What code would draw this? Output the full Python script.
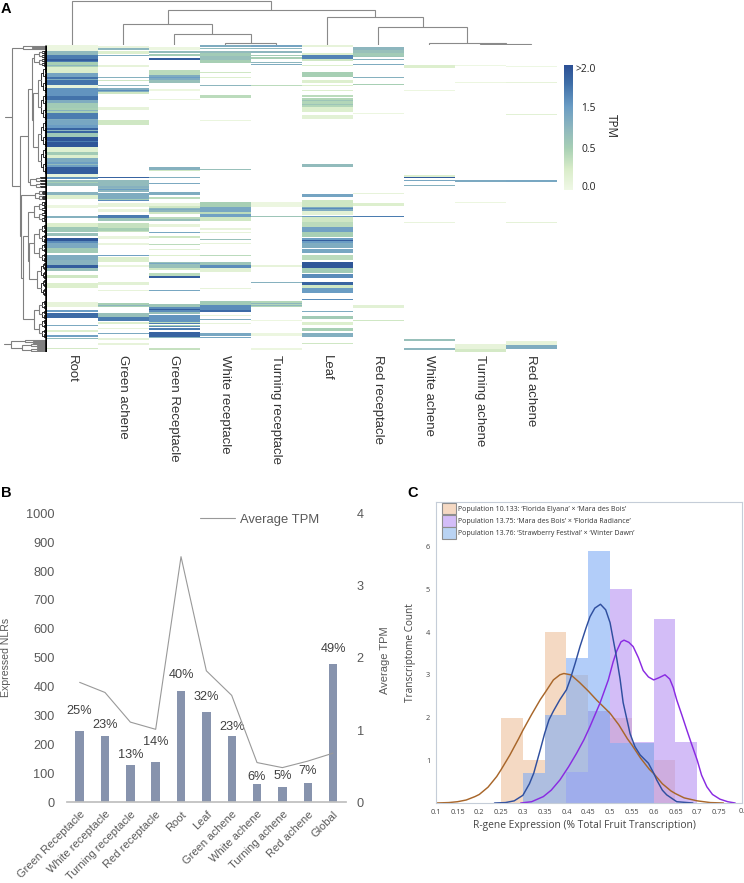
import numpy as np, pandas as pd, seaborn as sns
import matplotlib
matplotlib.use("Agg")
import matplotlib.pyplot as plt
from matplotlib.colors import LinearSegmentedColormap, FuncNorm
from matplotlib.lines import Line2D
from matplotlib.patches import Patch

sns.set_theme(style="white")
plt.rcParams['font.family'] = ['Liberation Sans', 'DejaVu Sans']
W, H = 744, 883
fig = plt.figure(figsize=(W/100, H/100), dpi=100, facecolor='white')
def axpx(l, t, r, b, **k):
    return fig.add_axes([l/W, 1-b/H, (r-l)/W, (b-t)/H], **k)

# ---------- Panel A data: (first row, last row, TPM); rows numbered 45..351 ----------
heat_cols = ["Root","Green achene","Green Receptacle","White receptacle","Turning receptacle",
             "Leaf","Red receptacle","White achene","Turning achene","Red achene"]
root = [(45,50,.05),(51,54,.95),(55,61,1.7),(59,60,1.9),(62,64,.5),(65,65,1.0),(66,66,.5),(67,72,.22),(73,76,1.35),(77,84,1.75),(79,79,1.2),(85,87,.1),
        (88,95,1.55),(96,99,1.75),(100,102,1.2),(103,107,.6),(108,112,.5),(110,110,1.1),(113,118,1.7),(119,119,1.2),(120,124,1.3),(125,127,1.5),
        (128,132,1.85),(130,130,1.0),(133,136,.65),(137,146,1.95),(141,141,1.7),(147,151,.18),(152,154,.6),(155,157,.2),(158,161,1.2),(162,166,1.45),(164,164,.9),
        (167,173,1.9),(174,176,.1),(177,178,1.55),(180,185,.9),(182,182,.5),(192,194,1.05),(195,198,.2),(216,217,1.1),(205,207,.05),(223,226,.22),
        (227,231,.65),(233,235,.8),(238,240,1.95),(241,242,1.6),(243,247,1.25),(248,252,.6),(255,259,1.2),(260,264,1.05),(265,267,1.9),(268,270,.8),(275,277,.3),
        (283,287,.2),(302,306,.1),(310,311,1.5),(313,317,1.8),(325,325,1.25),(330,331,.2),(335,336,1.4),(338,338,.9),(348,348,.28)]
green_achene = [(46,47,.08),(48,49,1.0),(51,53,.2),(55,55,1.2),(65,66,.1),(77,77,1.1),(80,80,.3),(85,85,1.0),(88,91,1.15),(90,90,1.6),(92,93,.3),(107,109,.1),
        (120,124,.3),(177,177,1.85),(180,185,.9),(186,187,1.1),(188,191,1.0),(189,189,1.5),(193,198,1.2),(199,199,.6),(200,200,1.6),(203,206,.1),(209,211,.08),
        (215,217,1.7),(218,220,.7),(223,231,.35),(228,230,.5),(236,238,.08),(243,244,.08),(255,255,1.4),(257,261,.2),(265,266,.08),(282,284,.15),(290,290,.1),
        (303,306,.5),(305,305,1.0),(313,316,.8),(317,320,1.7),(322,323,.2),(328,328,.1),(333,333,1.25),(338,339,.12),(343,344,.1)]
green_recept = [(47,49,.05),(51,52,.9),(54,55,.6),(58,59,1.9),(70,74,.4),(75,79,1.2),(77,77,1.5),(80,82,.8),(89,90,.05),(99,99,.07),(167,169,1.1),(170,170,.3),
        (177,177,1.15),(183,183,1.25),(192,194,1.2),(197,198,.4),(203,205,.1),(206,207,.3),(208,211,1.0),(209,209,1.2),(212,213,.3),(217,218,.4),(219,220,.8),
        (224,226,.1),(232,232,1.3),(236,237,.3),(244,244,.4),(249,249,.15),(255,255,.2),(262,267,.8),(263,263,1.3),(268,269,.3),(273,275,.4),(276,277,1.9),
        (290,290,1.3),(304,306,.7),(307,311,1.6),(309,309,1.9),(312,313,.8),(315,321,1.55),(322,322,.4),(323,323,1.7),(325,325,.5),(326,326,1.6),(328,329,1.7),
        (332,336,1.85),(337,337,1.0),(348,349,.35)]
white_recept = [(45,46,1.2),(48,48,.9),(51,52,.9),(53,55,.6),(56,59,.8),(60,62,.5),(72,72,.3),(77,77,.2),(85,85,1.0),(95,97,.4),(120,120,.07),(169,169,.8),(202,206,.5),
        (207,211,1.3),(212,213,.4),(214,216,1.4),(217,220,.3),(228,229,.1),(232,232,.1),(239,239,.8),(243,243,.1),(255,255,.4),(262,264,.7),(265,267,1.6),(268,271,.15),
        (288,288,.1),(301,304,.6),(305,309,1.6),(310,311,1.8),(315,315,.1),(319,319,1.2),(323,323,.1),(333,335,1.3),(337,337,1.3)]
turning_recept = [(45,46,1.35),(48,48,1.0),(51,52,1.0),(55,55,.6),(57,58,.5),(62,62,1.0),(64,64,1.2),(85,85,.4),(202,206,.05),(216,216,.7),(265,266,.1),(282,282,1.1),
        (301,306,.45),(303,303,1.0),(305,305,1.0),(320,320,.05),(333,335,.05),(348,349,.05)]
leaf = [(45,46,.1),(53,54,.2),(55,58,1.65),(59,60,.3),(65,65,.2),(72,76,.5),(80,82,.2),(85,85,.2),(90,90,.2),(95,96,.4),(98,106,.45),(100,100,.7),(104,104,.7),(107,111,.2),(115,118,.15),
        (164,166,.9),(194,196,1.35),(200,206,.3),(207,210,1.2),(208,208,1.6),(211,214,.15),(216,216,1.5),(217,221,.3),(222,226,.4),(227,231,1.4),(232,236,.5),(238,242,1.5),(240,240,1.9),(243,247,1.2),(249,252,1.3),
        (255,259,.4),(262,267,1.95),(268,272,.6),(274,277,1.6),(282,284,1.85),(285,287,.3),(288,292,1.5),(299,299,1.6),(311,311,1.2),(316,318,.6),(322,324,.2),(328,330,.5),(333,336,1.15),(343,343,.3)]
red_recept = [(47,49,1.0),(50,52,.8),(53,55,.6),(56,56,.7),(59,59,1.1),(64,64,1.2),(77,77,1.1),(84,84,.5),(113,113,.05),(193,193,.1),(203,205,.2),(216,216,1.7),(305,307,.15),(320,320,.3)]
white_achene = [(65,67,.2),(90,90,.05),(175,176,.2),(177,177,1.9),(180,180,1.3),(185,185,1.1),(222,222,.08),(339,340,.8),(348,349,1.0)]
turning_achene = [(65,65,.03),(82,82,.05),(180,181,1.25),(202,202,.05),(344,348,.1),(349,351,.28)]
red_achene = [(66,66,.03),(82,82,.1),(114,114,.15),(180,181,1.3),(222,222,.12),(341,344,.1),(345,348,1.2)]
heat_bands = [root, green_achene, green_recept, white_recept, turning_recept, leaf, red_recept, white_achene, turning_achene, red_achene]

cbar_stops = [0, .5, 1.5, 2]
cbar_ticks = [.05, .5, 1.5, 1.96]
cbar_labels = ["0.0", "0.5", "1.5", ">2.0"]

# column dendrogram: (merge height, left, right); leaves index columns
col_tree = (43.7, 0,
            (34.5, (20.5, 1, (11, 2, (2.2, 3, 4))),
                   (27.5, 5, (17.5, 6, (1.6, 7, (0.9, 8, 9))))))
# row dendrograms: nodes and ranges of leaf rows
def N(h, a, b): return ("node", h, a, b)
def R(r0, r1, h): return ("rows", r0, r1, h)
row_trees = [
    N(35, R(45, 50, 24),
       N(27, N(19, N(15, R(50, 66, 13), R(66, 174, 14)), R(176, 188, 17)),
             N(26, R(190, 200, 12),
                   N(24, N(19, R(201, 222, 13), N(18, R(224, 262, 13), R(262, 296, 10))), R(300, 338, 13))))),
    N(36, R(339, 343, 22), R(343, 352, 25)),
]

# ---------- Panel B data ----------
b_cats = ["Green Receptacle","White receptacle","Turning receptacle","Red receptacle","Root","Leaf",
          "Green achene","White achene","Turning achene","Red achene","Global"]
b_nlrs = [245,230,128,138,385,313,230,63,52,68,478]
b_tpm = [1.66,1.52,1.11,1.01,3.4,1.82,1.48,.55,.48,.57,.68]
b_pct = ["25%","23%","13%","14%","40%","32%","23%","6%","5%","7%","49%"]
b_pct_at = [317,267,163,210,440,365,262,89,91,108,531]

# ---------- Panel C data ----------
c_edges = [.25,.3,.35,.4,.45,.5,.55,.6,.65,.7]
c_orange = [2,1,4,3,2.15,2,1.4,1,0]
c_purple = [0,0,0,.72,2.15,5,1.43,4.3,1.43]
c_blue = [0,.7,2.05,3.4,5.9,1.4,1.4,0,0]
kde_orange_x = [.1,.13,.15,.17,.19,.2,.22,.24,.25,.27,.29,.3,.32,.34,.35,.37,.385,.394,.41,.43,.45,.47,.49,.5,.52,.54,.55,.57,.59,.6,.62,.64,.65,.67,.7,.73,.76]
kde_orange_y = [0,.01,.03,.07,.15,.2,.37,.62,.78,1.12,1.5,1.7,2.07,2.42,2.57,2.88,3.0,3.03,3.0,2.82,2.62,2.4,2.2,2.1,1.83,1.5,1.36,1.05,.79,.69,.45,.28,.22,.12,.05,.01,0]
kde_blue_x = [.235,.26,.28,.3,.315,.325,.34,.35,.36,.37,.385,.4,.408,.42,.431,.445,.454,.465,.478,.49,.5,.515,.523,.53,.546,.557,.569,.588,.6,.607,.62,.63,.653,.69]
kde_blue_y = [0,.01,.05,.18,.45,.7,1.25,1.63,1.95,2.15,2.42,2.65,2.875,3.27,3.66,4.1,4.36,4.56,4.65,4.52,4.22,3.4,2.9,2.35,1.62,1.32,1.125,.93,.7,.54,.3,.19,.03,0]
kde_purple_x = [.295,.32,.347,.365,.385,.405,.423,.44,.454,.477,.496,.507,.515,.525,.532,.543,.553,.565,.576,.588,.6,.612,.626,.637,.645,.653,.665,.676,.688,.7,.71,.722,.735,.752,.77,.787]
kde_purple_y = [0,.03,.15,.3,.54,.85,1.16,1.48,1.79,2.34,2.88,3.3,3.55,3.77,3.81,3.76,3.66,3.4,3.1,2.95,2.88,2.93,3.0,2.9,2.7,2.41,2.05,1.71,1.35,1.0,.65,.38,.2,.09,.03,0]
c_legend = ["Population 10.133: ‘Florida Elyana’ × ‘Mara des Bois’",
            "Population 13.75: ‘Mara des Bois’ × ‘Florida Radiance’",
            "Population 13.76: ‘Strawberry Festival’ × ‘Winter Dawn’"]

# ---------- Panel A ----------
RFIRST, RLAST = 45, 351
mat = np.zeros((RLAST-RFIRST+1, len(heat_cols)))
for j, bands in enumerate(heat_bands):
    for a, b, v in bands:
        mat[a-RFIRST:b-RFIRST+1, j] = v
df = pd.DataFrame(mat, columns=heat_cols)
cmap = LinearSegmentedColormap.from_list("tpm", [(0,'#F0F8E6'),(.17,'#D8ECC8'),(.33,'#A8D0B4'),(.5,'#8DB6BE'),
                                                 (.67,'#6A9CC4'),(.85,'#3F6FA8'),(1,'#2B4F94')])
cmap.set_bad('white')
pos = [0, 1/3, 2/3, 1]
def fwd(v):
    return np.ma.array(np.interp(np.ma.getdata(v), cbar_stops, pos), mask=np.ma.getmask(v))
def inv(p):
    return np.ma.array(np.interp(np.ma.getdata(p), pos, cbar_stops), mask=np.ma.getmask(p))
norm = FuncNorm((fwd, inv), vmin=0, vmax=2)
axh = axpx(46.7, 45, 556.5, 352)
axc = axpx(563.7, 65, 572.7, 190)
sns.heatmap(df, ax=axh, cmap=cmap, norm=norm, mask=mat == 0, cbar_ax=axc, yticklabels=False, xticklabels=True,
            cbar_kws=dict(ticks=cbar_ticks))
axh.tick_params(axis='x', length=0, pad=2, labelsize=9.5, labelcolor='#333333')
plt.setp(axh.get_xticklabels(), rotation=-90, ha='center', va='top')
axh.set_ylabel(''); axh.set_xlabel('')
axc.set_yticks(cbar_ticks); axc.set_yticklabels(cbar_labels, ha='right', fontfamily='Open Sans', fontsize=7.4, color='#222222')
axc.tick_params(axis='y', length=0, pad=16.5)
axc.minorticks_off()
for s in axc.spines.values(): s.set_visible(False)
fig.text(611/W, 1-126/H, "TPM", rotation=-90, ha='center', va='center', fontfamily='Open Sans', fontsize=8.4, color='#222222')

axd = axpx(46.7, 0, 556.5, 45)
axd.set_xlim(0, 10); axd.set_ylim(0, 44.5); axd.axis('off')
def draw_col(node):
    if not isinstance(node, tuple):
        return node+.5, 0
    h, a, b = node
    xa, ha = draw_col(a); xb, hb = draw_col(b)
    axd.plot([xa, xa, xb, xb], [ha, h, h, hb], color='#8a8a8a', lw=.8, solid_joinstyle='miter')
    return (xa+xb)/2, h
draw_col(col_tree)

axr = axpx(0, 45, 46.7, 352)
axr.set_xlim(46.7, 0); axr.set_ylim(352, 45); axr.axis('off')
def bracket(ya, ha, yb, hb, h, dark):
    col = '#111111' if dark else '#808080'
    axr.plot([ha, h, h, hb], [ya, ya, yb, yb], color=col, lw=.6 if dark else .8, solid_joinstyle='miter')
def draw_row(n):
    if n[0] == "node":
        ya, ha = draw_row(n[2]); yb, hb = draw_row(n[3])
        bracket(ya, ha, yb, hb, n[1], False)
        return (ya+yb)/2, n[1]
    _, r0, r1, h = n
    if r1-r0 <= 1.5:
        return (r0+r1)/2, 0
    mid = (r0+r1)/2
    ya, ha = draw_row(("rows", r0, mid, h*.62))
    yb, hb = draw_row(("rows", mid, r1, h*.62))
    bracket(ya, ha, yb, hb, h, h < 7)
    return (ya+yb)/2, h
for t in row_trees:
    y, h = draw_row(t)
    axr.plot([h, h+7], [y, y], color='#808080', lw=.8)
axr.plot([1.1, 1.1], [45, 352], color='black', lw=1.8, solid_capstyle='butt')

# ---------- Panel B ----------
axb = axpx(67, 513.3, 345.7, 802.3)
sns.barplot(x=b_cats, y=b_nlrs, ax=axb, color='#8793AD', saturation=1, width=.33, edgecolor='none', linewidth=0)
axb.set_xlim(-.5, 10.5); axb.set_ylim(0, 1000)
axb.set_yticks(range(0, 1001, 100))
gc = '#595959'
axb.tick_params(axis='y', length=0, pad=9, labelsize=9.2, labelcolor=gc)
axb.tick_params(axis='x', length=0, pad=5, labelsize=8.0, labelcolor=gc)
plt.setp(axb.get_xticklabels(), rotation=45, ha='right', va='top', rotation_mode='anchor')
for s in ['top', 'left', 'right']: axb.spines[s].set_visible(False)
axb.spines['bottom'].set_color('#BFBFBF')
axb.set_ylabel("Expressed NLRs", fontsize=7.6, color=gc, labelpad=0)
axb.yaxis.set_label_coords((11-67)/278.7, (802.3-657)/289)
for i, (t, v) in enumerate(zip(b_pct, b_pct_at)):
    axb.text(i, v, t, ha='center', va='center', fontsize=9.2, color='#404040')
axt = axb.twinx()
sns.lineplot(x=np.arange(len(b_tpm)), y=b_tpm, ax=axt, color='#999999', lw=.8)
axt.set_ylim(0, 4); axt.set_yticks(range(5)); axt.grid(False)
axt.set_xlim(-.5, 10.5)
axt.tick_params(axis='y', length=0, pad=8, labelsize=9.2, labelcolor=gc)
for s in ['top', 'left', 'right', 'bottom']: axt.spines[s].set_visible(False)
axt.set_ylabel("Average TPM", fontsize=8, color=gc)
axt.yaxis.set_label_coords((379.5-67)/278.7, (802.3-660)/289)
axt.legend(handles=[Line2D([], [], color='#999999', lw=.8)], labels=["Average TPM"], loc='center left',
           bbox_to_anchor=(.477, .977), frameon=False, fontsize=9.4, labelcolor=gc, borderpad=0, borderaxespad=0,
           handlelength=2.7, handletextpad=.4)

# ---------- Panel C ----------
axk = axpx(435.7, 501.7, 741.7, 803)
cc = dict(o='#EEC09B', p='#B691F3', b='#80ADF5')
for vals, col in [(c_orange, cc['o']), (c_purple, cc['p']), (c_blue, cc['b'])]:
    sns.histplot(x=np.array(c_edges[:-1])+.025, weights=vals, bins=c_edges, ax=axk, color=col, alpha=.6, linewidth=0)
for xs, ys, col in [(kde_orange_x, kde_orange_y, '#A8662A'), (kde_purple_x, kde_purple_y, '#8A2BE2'), (kde_blue_x, kde_blue_y, '#2F4F9F')]:
    sns.lineplot(x=xs, y=ys, ax=axk, color=col, lw=1.05, estimator=None, sort=False)
axk.set_xlim(.1, .802); axk.set_ylim(0, 7.05)
axk.set_xticks(np.arange(2, 16)*.05); axk.set_xticklabels(["0.1","0.15","0.2","0.25","0.3","0.35","0.4","0.45","0.5","0.55","0.6","0.65","0.7","0.75"])
axk.set_yticks(range(1, 7))
axk.tick_params(axis='both', length=0, pad=4, labelsize=5.3, labelcolor='#444444')
for lab in axk.get_xticklabels()+axk.get_yticklabels(): lab.set_fontfamily('Open Sans')
fig.text(738.5/W, 1-811.5/H, "0.", ha='left', va='center', fontsize=5.3, color='#444444', fontfamily='Open Sans')
for s in axk.spines.values(): s.set_color('#C5CDD8'); s.set_linewidth(.8)
axk.set_xlabel("R-gene Expression (% Total Fruit Transcription)", fontfamily='Open Sans', fontsize=7.4, color='#444444')
axk.xaxis.set_label_coords((584-435.7)/306, (803-820)/301.3)
axk.set_ylabel("Transcriptome Count", fontfamily='Open Sans', fontsize=7.2, color='#444444')
axk.yaxis.set_label_coords((416-435.7)/306, (803-653)/301.3)
hs = [Patch(facecolor=c, edgecolor='#8E8E8E', lw=.8) for c in ['#F5D9C3', '#D3BDF8', '#B9D3F3']]
axk.legend(handles=hs, labels=c_legend, loc='upper left', bbox_to_anchor=(.0196, .996), frameon=False, borderpad=0, borderaxespad=0,
           prop=dict(family='Open Sans', size=5.05), labelcolor='#333333', handlelength=1.98, handleheight=2.15, labelspacing=.1, handletextpad=.4)

for t, x, y in [("A", 1, 13), ("B", 1, 497), ("C", 407, 497)]:
    fig.text(x/W, 1-y/H, t, fontweight='bold', fontsize=10.5, color='black', ha='left', va='baseline')
fig.savefig("out.png", dpi=100)
